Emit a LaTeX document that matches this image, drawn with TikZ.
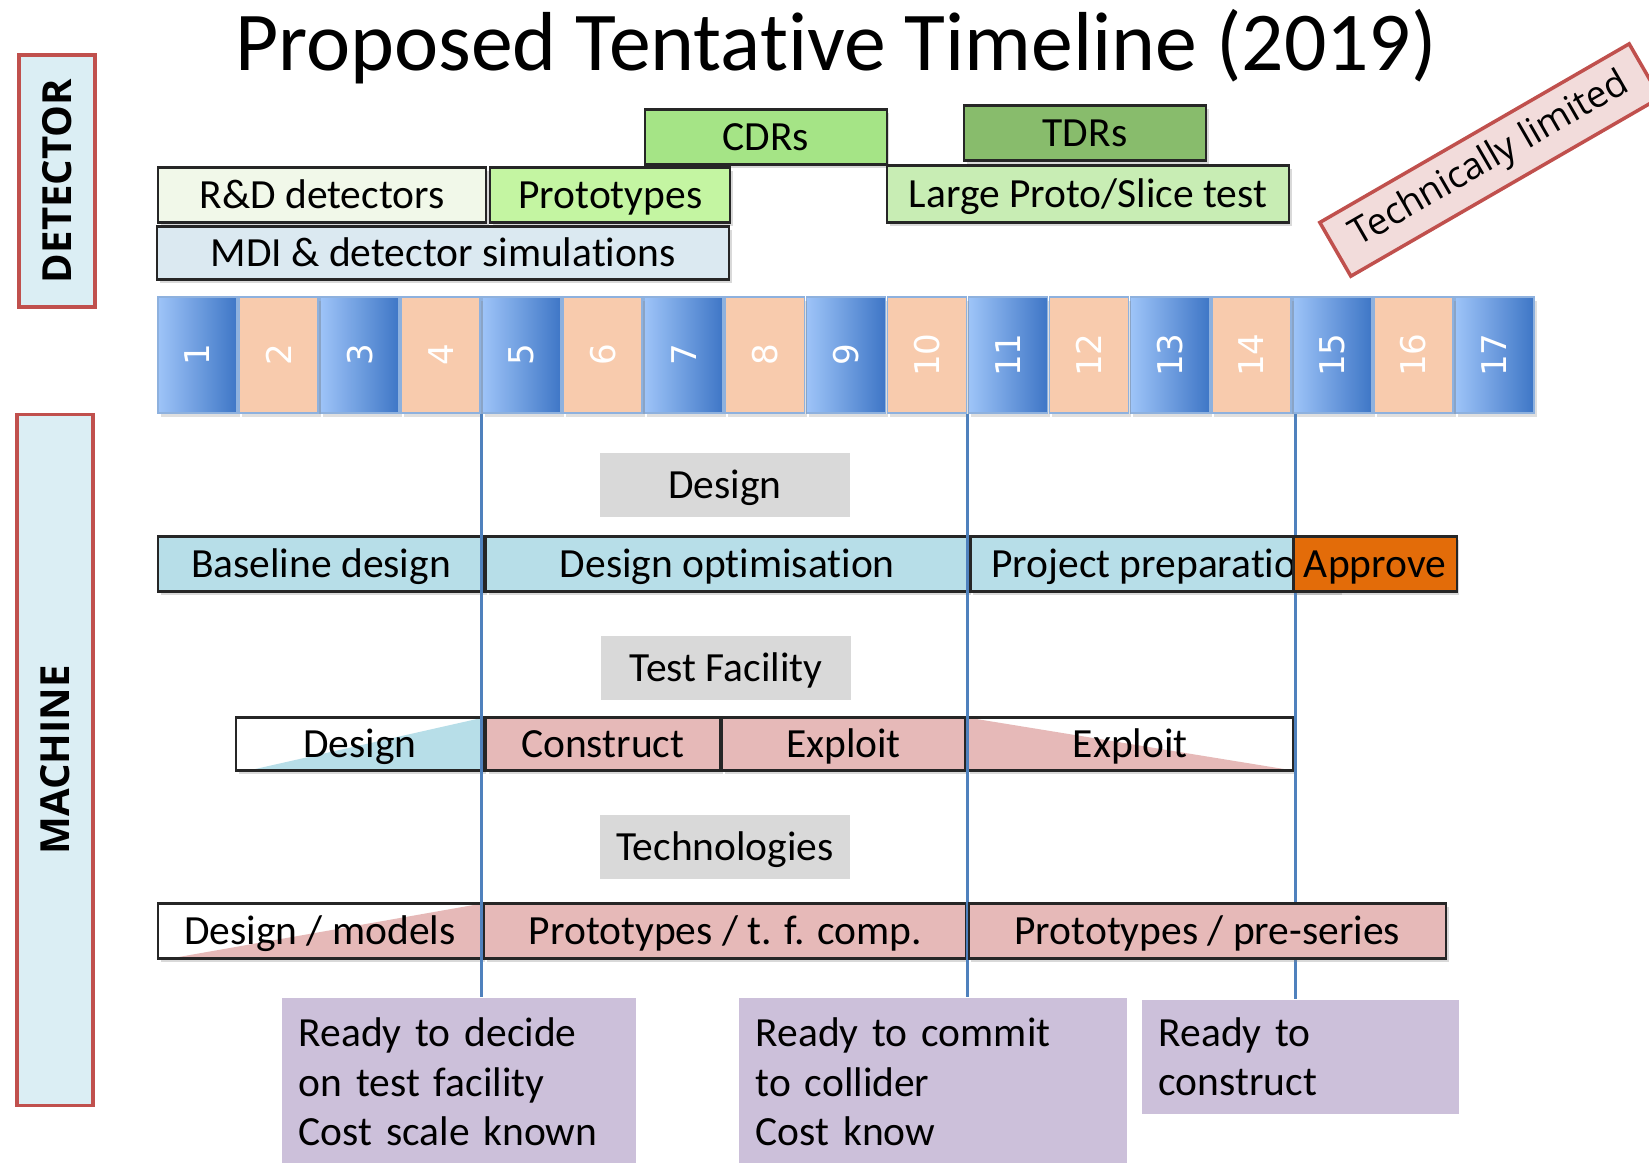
\documentclass[tikz,border=0pt]{standalone}
\usepackage{fontspec}
\setmainfont[Ligatures=NoCommon]{Carlito}
\newfontfamily\sidefont{Open Sans}
\newfontfamily\numfont{DejaVu Sans}
\usepackage{tikz}
\usetikzlibrary{positioning,shadows}

\definecolor{sidefill}{HTML}{DBEEF4}
\definecolor{sidered}{HTML}{C0504D}
\definecolor{rndgreen}{HTML}{F1F8E9}
\definecolor{protogreen}{HTML}{C4F5A2}
\definecolor{cdrgreen}{HTML}{A5E486}
\definecolor{tdrgreen}{HTML}{88BC6C}
\definecolor{slicegreen}{HTML}{C8EDB4}
\definecolor{mdiblue}{HTML}{DBE9F1}
\definecolor{numlight}{HTML}{9EC4F8}
\definecolor{numdark}{HTML}{3E76C6}
\definecolor{numpeach}{HTML}{F8CBAD}
\definecolor{numedge}{HTML}{8EB1DE}
\definecolor{headgray}{HTML}{D9D9D9}
\definecolor{barblue}{HTML}{B7DEE8}
\definecolor{barpink}{HTML}{E6B9B8}
\definecolor{approveorange}{HTML}{E36C09}
\definecolor{readypurple}{HTML}{CCC0DA}
\definecolor{limitpink}{HTML}{F2DCDB}
\definecolor{mileblue}{HTML}{4F81BD}

\tikzstyle{side}=[rectangle, draw=sidered, line width=1pt, fill=sidefill, inner sep=0pt, text=black, rotate=90, font=\sidefont\bfseries\fontsize{11.4}{13}\selectfont]
\tikzstyle{bar}=[rectangle, draw=black!85, line width=0.6pt, inner sep=0pt, text=black, text height=7.6pt, text depth=0pt, font=\fontsize{11.8}{14.1}\selectfont, drop shadow={shadow xshift=0.8pt, shadow yshift=-1pt, opacity=0.3}]
\tikzstyle{numbox}=[rectangle, draw=numedge, line width=0.5pt, minimum width=0.79cm, minimum height=1.16cm, inner sep=0pt, text=white, font=\numfont\fontsize{9.7}{11}\selectfont, drop shadow={shadow xshift=0.8pt, shadow yshift=-1pt, opacity=0.25}]
\tikzstyle{numodd}=[numbox, left color=numlight, right color=numdark]
\tikzstyle{numeven}=[numbox, fill=numpeach]
\tikzstyle{head}=[rectangle, fill=headgray, inner sep=0pt, minimum width=2.5cm, minimum height=0.64cm, text height=7.6pt, text depth=0pt, font=\fontsize{11.8}{14.1}\selectfont]
\tikzstyle{ready}=[rectangle, fill=readypurple, inner xsep=0.17cm, inner ysep=0pt, anchor=north west, align=left, font=\fontsize{11.8}{14.1}\selectfont]
\tikzstyle{limit}=[rectangle, draw=sidered, line width=1pt, fill=limitpink, inner sep=0pt, minimum width=3.57cm, minimum height=0.62cm, font=\sidefont\fontsize{10.5}{12}\selectfont]
\tikzstyle{milestone}=[draw=mileblue, line width=0.9pt]
\tikzset{
  rampup/.style={bar, fill=white, path picture={
      \fill[#1] ([xshift=0.12cm]path picture bounding box.south west) -- (path picture bounding box.south east) -- (path picture bounding box.north east) -- cycle;}},
  rampdown/.style={bar, fill=white, path picture={
      \fill[#1] (path picture bounding box.north west) -- (path picture bounding box.south east) -- (path picture bounding box.south west) -- cycle;}}
}

\begin{document}
\begin{tikzpicture}[x=0.01cm, y=-0.01cm]
    \useasboundingbox (0,0) rectangle (1649,1162);

    \node(title)[anchor=base, font=\fontsize{23.8}{28}\selectfont] at (836,70) {
        Proposed Tentative Timeline (2019)
    };
    \node(detector)[side, minimum width=2.52cm, minimum height=0.76cm] at (57,181) {
        DETECTOR
    };
    \node(machine)[side, minimum width=6.91cm, minimum height=0.76cm] at (55,760) {
        MACHINE
    };
    \node(techlim)[limit, rotate=30] at (1490,160) {
        Technically limited
    };

    % detector
    \node(cdr)[bar, fill=cdrgreen, minimum width=2.41cm, minimum height=0.55cm] at (766,137) {
        CDRs
    };
    \node(tdr)[bar, fill=tdrgreen, minimum width=2.42cm, minimum height=0.55cm] at (1085,133) {
        TDRs
    };
    \node(rnd)[bar, fill=rndgreen, minimum width=3.28cm, minimum height=0.55cm] at (322,195) {
        R\&D detectors
    };
    \node(protod)[bar, fill=protogreen, right=0.02cm of rnd, minimum width=2.40cm, minimum height=0.55cm] {
        Prototypes
    };
    \node(slice)[bar, fill=slicegreen, minimum width=4.02cm, minimum height=0.57cm] at (1088,194) {
        Large Proto/Slice test
    };
    \node(mdi)[bar, fill=mdiblue, minimum width=5.72cm, minimum height=0.53cm] at (443,253) {
        MDI \& detector simulations
    };

    % years
    \foreach \i in {1,3,...,17}
        \node(num\i)[numodd] at ({197.5+(\i-1)*81.05},355) {\rotatebox{90}{\i}};
    \foreach \i in {2,4,...,16}
        \node(num\i)[numeven] at ({197.5+(\i-1)*81.05},355) {\rotatebox{90}{\i}};

    % machine
    \node(hdesign)[head] at (725,485) {
        Design
    };
    \node(base)[bar, fill=barblue, minimum width=3.26cm, minimum height=0.55cm] at (321,564) {
        Baseline design
    };
    \node(optim)[bar, fill=barblue, right=0pt of base, minimum width=4.82cm, minimum height=0.55cm] {
        Design optimisation
    };
    \node(prep)[bar, fill=barblue, right=0pt of optim, minimum width=3.68cm, minimum height=0.55cm] {
        Project preparation
    };

    \node(htest)[head] at (726,668) {
        Test Facility
    };
    \node(tfdesign)[rampup=barblue, minimum width=2.47cm, minimum height=0.53cm] at (360,744) {
        Design
    };
    \node(construct)[bar, fill=barpink, right=0pt of tfdesign, minimum width=2.34cm, minimum height=0.53cm] {
        Construct
    };
    \node(exploit)[bar, fill=barpink, right=0pt of construct, minimum width=2.43cm, minimum height=0.53cm] {
        Exploit
    };
    \node(exploitb)[rampdown=barpink, right=0pt of exploit, minimum width=3.26cm, minimum height=0.53cm] {
        Exploit
    };

    \node(htech)[head] at (725,847) {
        Technologies
    };
    \node(models)[rampup=barpink, minimum width=3.24cm, minimum height=0.55cm] at (320,931) {
        Design / models
    };
    \node(tfcomp)[bar, fill=barpink, right=0pt of models, minimum width=4.82cm, minimum height=0.55cm] {
        Prototypes / t. f. comp.
    };

    % milestones
    \node(decide)[ready, text width=3.20cm, minimum height=1.68cm] at (281,997) {
        Ready to decide\\on test facility\\Cost scale known
    };
    \node(commit)[ready, text width=3.54cm, minimum height=1.68cm] at (738,997) {
        Ready to commit\\to collider\\Cost know
    };
    \node(construct2)[ready, text width=2.83cm, minimum height=1.14cm] at (1141,999) {
        Ready to\\construct
    };
    \draw[milestone] (num5.south west) -- (num5.south west |- decide.north);
    \draw[milestone] (num11.south west) -- (num11.south west |- commit.north);
    \draw[milestone] ([xshift=0.04cm]num15.south west) -- ([xshift=0.04cm]num15.south west |- construct2.north);

    \node(preser)[bar, fill=barpink, right=0pt of tfcomp, minimum width=4.77cm, minimum height=0.55cm] {
        Prototypes / pre-series
    };
    \node(approve)[bar, fill=approveorange, minimum width=1.63cm, minimum height=0.55cm] at (1375,564) {
        Approve
    };
\end{tikzpicture}
\end{document}
